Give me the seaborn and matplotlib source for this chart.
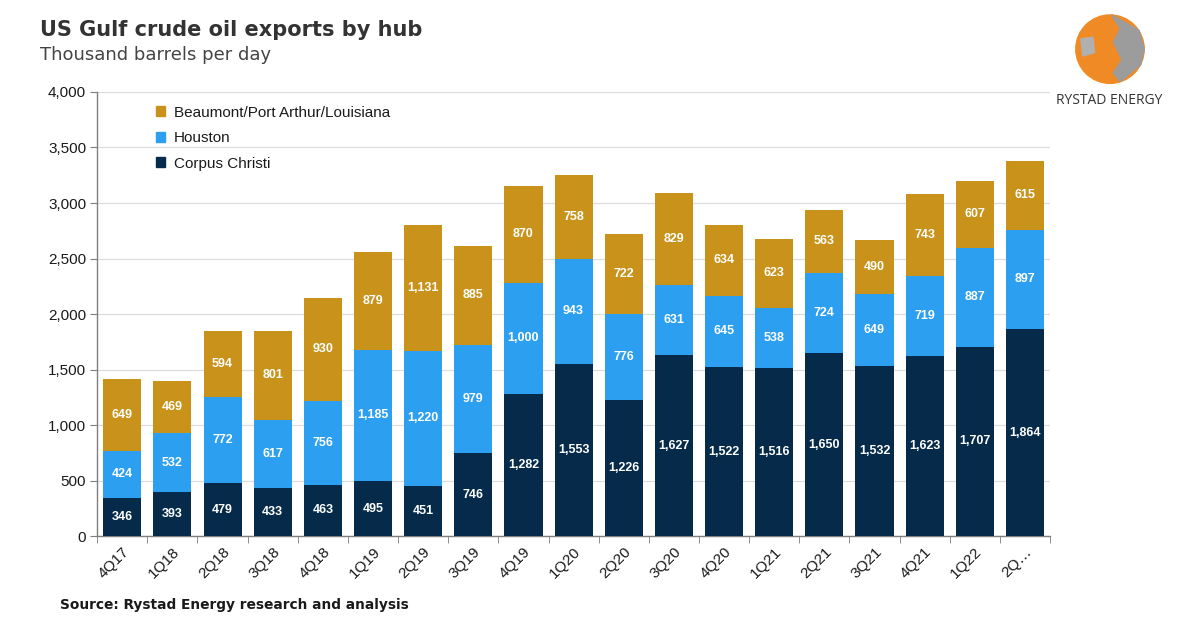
import numpy as np
import pandas as pd
import matplotlib
matplotlib.use("Agg")
import matplotlib.pyplot as plt
import seaborn as sns
from matplotlib.patches import Patch, Circle, Polygon
from matplotlib.ticker import FuncFormatter, FixedLocator

# Data (thousand barrels per day)
quarters = ["4Q17", "1Q18", "2Q18", "3Q18", "4Q18", "1Q19", "2Q19", "3Q19", "4Q19", "1Q20",
            "2Q20", "3Q20", "4Q20", "1Q21", "2Q21", "3Q21", "4Q21", "1Q22", "2Q…"]
corpus_christi = [346, 393, 479, 433, 463, 495, 451, 746, 1282, 1553,
                  1226, 1627, 1522, 1516, 1650, 1532, 1623, 1707, 1864]
houston = [424, 532, 772, 617, 756, 1185, 1220, 979, 1000, 943,
           776, 631, 645, 538, 724, 649, 719, 887, 897]
beaumont = [649, 469, 594, 801, 930, 879, 1131, 885, 870, 758,
            722, 829, 634, 623, 563, 490, 743, 607, 615]

c_navy = "#062b4a"
c_blue = "#2c9ff0"
c_gold = "#c9921a"

df = pd.DataFrame({"quarter": quarters, "cc": corpus_christi, "hou": houston, "bpa": beaumont})
df["cc_hou"] = df["cc"] + df["hou"]
df["total"] = df["cc_hou"] + df["bpa"]

sns.set_style("white")
plt.rcParams["font.family"] = ["Liberation Sans", "DejaVu Sans"]

fig = plt.figure(figsize=(12, 6.3), dpi=100)
ax = fig.add_axes([0.081, 0.149, 0.794, 0.705])

# stacked bars drawn as overlapping cumulative totals
bar_kw = dict(width=0.76, saturation=1, linewidth=0, ax=ax, zorder=3)
sns.barplot(data=df, x="quarter", y="total", color=c_gold, **bar_kw)
sns.barplot(data=df, x="quarter", y="cc_hou", color=c_blue, **bar_kw)
sns.barplot(data=df, x="quarter", y="cc", color=c_navy, **bar_kw)

# value labels in the middle of each segment
lab_font = dict(color="white", fontsize=9, fontweight="bold", ha="center", va="center",
                family=["Liberation Sans Narrow", "Liberation Sans"], zorder=5)
for i, row in df.iterrows():
    ax.text(i, row["cc"] / 2, f"{row['cc']:,}", **lab_font)
    ax.text(i, row["cc"] + row["hou"] / 2, f"{row['hou']:,}", **lab_font)
    ax.text(i, row["cc_hou"] + row["bpa"] / 2, f"{row['bpa']:,}", **lab_font)

ax.set_xlim(-0.5, len(quarters) - 0.5)
ax.set_ylim(0, 4000)
ax.set_yticks(np.arange(0, 4001, 500))
ax.yaxis.set_major_formatter(FuncFormatter(lambda v, p: f"{int(v):,}"))
ax.grid(axis="y", color="#dcdcdc", linewidth=0.9, zorder=0)
ax.set_axisbelow(True)
ax.set_xlabel("")
ax.set_ylabel("")

for s in ["top", "right"]:
    ax.spines[s].set_visible(False)
for s in ["left", "bottom"]:
    ax.spines[s].set_color("#7f7f7f")
    ax.spines[s].set_linewidth(1)

ax.tick_params(axis="y", length=5, color="#7f7f7f", labelsize=11, labelcolor="#1a1a1a", pad=3, direction="out", left=True)
ax.tick_params(axis="x", which="major", length=0, labelsize=11, labelcolor="#1a1a1a", pad=6)
ax.xaxis.set_minor_locator(FixedLocator(np.arange(-0.5, len(quarters), 1.0)))
ax.tick_params(axis="x", which="minor", length=5, color="#7f7f7f", direction="out", bottom=True)
plt.setp(ax.get_xticklabels(), rotation=45, ha="right", rotation_mode="anchor")

# legend
handles = [Patch(color=c_gold, label="Beaumont/Port Arthur/Louisiana"),
           Patch(color=c_blue, label="Houston"),
           Patch(color=c_navy, label="Corpus Christi")]
leg = ax.legend(handles=handles, loc="upper left", bbox_to_anchor=(0.047, 1.0), frameon=False,
                fontsize=11, handlelength=0.6, handleheight=0.6, handletextpad=0.6, labelspacing=0.75)
for t in leg.get_texts():
    t.set_color("#1a1a1a")

# titles and source
fig.text(0.033, 0.952, "US Gulf crude oil exports by hub", fontsize=15, fontweight="bold",
         color="#333333", family="DejaVu Sans", va="center")
fig.text(0.033, 0.912, "Thousand barrels per day", fontsize=13, color="#444444",
         family="DejaVu Sans", va="center")
fig.text(0.05, 0.04, "Source: Rystad Energy research and analysis", fontsize=9.9, fontweight="bold",
         color="#1a1a1a", family="DejaVu Sans", va="center")

# simple logo
lax = fig.add_axes([0.895, 0.865, 0.06, 0.114])
lax.set_aspect("equal")
lax.set_xlim(-1.05, 1.05)
lax.set_ylim(-1.05, 1.05)
lax.axis("off")
lax.add_patch(Circle((0, 0), 1, color="#f08a24"))
lax.add_patch(Polygon([(0.05, 1.0), (0.3, 0.6), (0.1, 0.2), (0.35, -0.3), (0.1, -0.7),
                       (0.3, -0.95), (0.9, -0.45), (1.0, 0.0), (0.85, 0.55)], color="#9c9c9c"))
lax.add_patch(Polygon([(-0.85, 0.3), (-0.5, 0.35), (-0.45, -0.1), (-0.8, -0.2)], color="#b0b0b0"))
fig.text(0.924, 0.84, "RYSTAD ENERGY", fontsize=10, color="#333333", family="Open Sans",
         ha="center", va="center")

fig.savefig("out.png", dpi=100)
